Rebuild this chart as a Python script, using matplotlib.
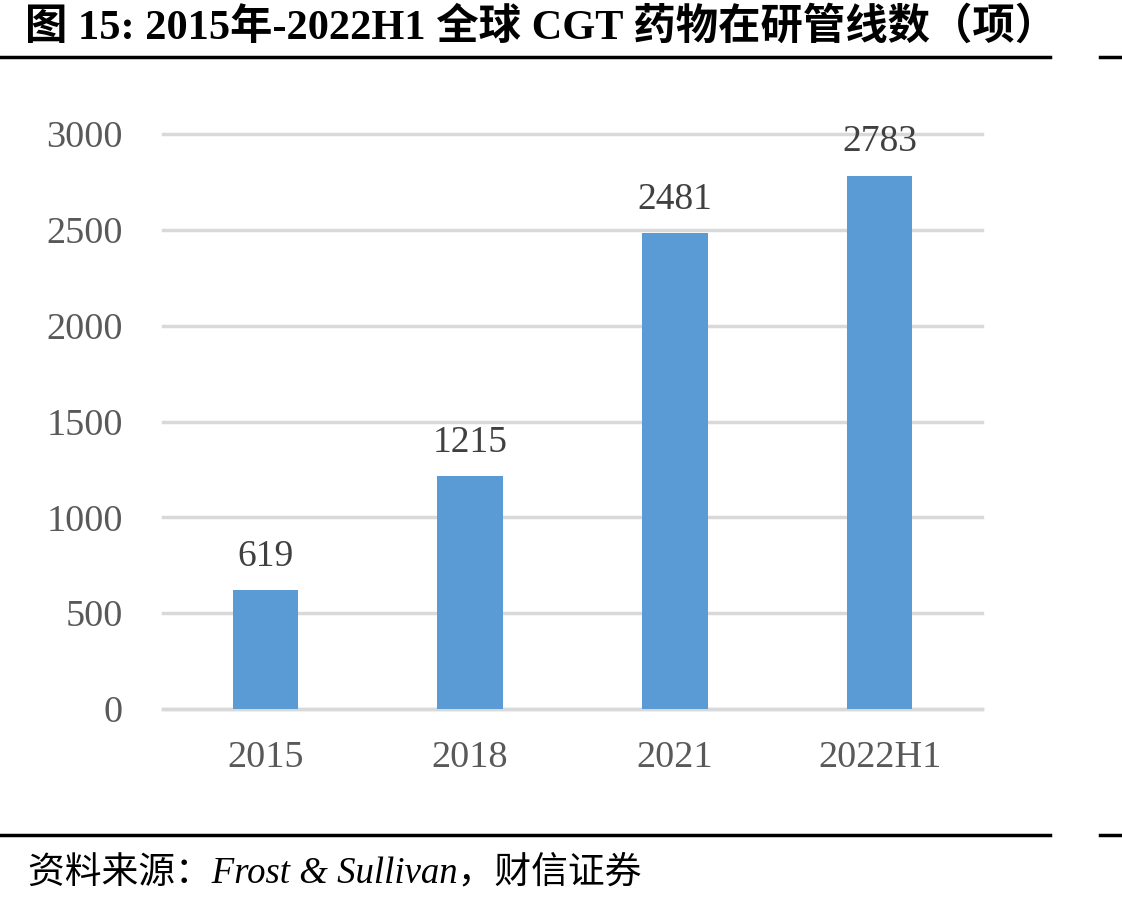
import matplotlib.pyplot as plt
from matplotlib.lines import Line2D

plt.rcParams['font.family'] = ['Liberation Serif', 'Noto Sans CJK SC']

# 数据
categorias = ['2015', '2018', '2021', '2022H1']
valores = [619, 1215, 2481, 2783]
yticks = [0, 500, 1000, 1500, 2000, 2500, 3000]

W, H = 1122, 905
fig = plt.figure(figsize=(W / 100, H / 100), dpi=100)
ax = fig.add_axes([163 / W, 1 - 709 / H, (982 - 163) / W, (709 - 134) / H])

x = range(len(categorias))
barras = ax.bar(x, valores, width=0.32, color='#5b9bd5', zorder=3)

# rótulos de valores acima das barras
for xi, v in zip(x, valores):
    ax.text(xi, v + 85, str(v), ha='center', va='bottom', fontsize=27, color='#404040')

ax.set_xlim(-0.5, len(categorias) - 0.5)
ax.set_ylim(0, 3000)
ax.set_yticks(yticks)
ax.set_yticklabels([str(t) for t in yticks])
ax.set_xticks(list(x))
ax.set_xticklabels(categorias)
ax.tick_params(axis='both', length=0, labelsize=27.5, labelcolor='#595959')
ax.tick_params(axis='y', pad=29)
ax.tick_params(axis='x', pad=23)
ax.yaxis.grid(True, color='#d9d9d9', linewidth=2.5, zorder=0)
for g in ax.get_ygridlines():
    g.set_clip_on(False)
for s in ['top', 'right', 'left']:
    ax.spines[s].set_visible(False)
ax.spines['bottom'].set_color('#d9d9d9')
ax.spines['bottom'].set_linewidth(2.5)

# título e fonte
fig.text(25 / W, 1 - 27 / H, '图 15: 2015年-2022H1 全球 CGT 药物在研管线数（项）',
         fontsize=30.5, fontweight='bold', ha='left', va='center')
fig.text(28 / W, 1 - 873 / H, '资料来源：Frost & Sullivan，财信证券',
         fontsize=26.5, style='italic', ha='left', va='center')

# linhas horizontais
for yy in [57, 835]:
    fig.add_artist(Line2D([0, 1050 / W], [1 - yy / H] * 2, color='black', linewidth=2.5))
    fig.add_artist(Line2D([1100 / W, 1], [1 - yy / H] * 2, color='black', linewidth=2.5))

fig.savefig('out.png', dpi=100)
